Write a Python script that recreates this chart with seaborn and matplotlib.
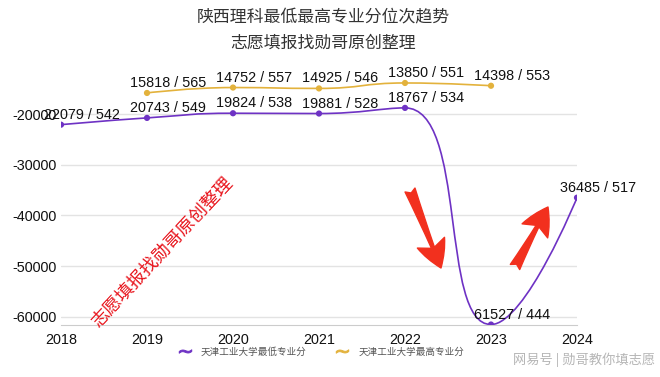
import numpy as np
import pandas as pd
import matplotlib
matplotlib.use("Agg")
import matplotlib.pyplot as plt
import seaborn as sns
from matplotlib.path import Path
from matplotlib.patches import PathPatch
from matplotlib.lines import Line2D

# 数据：位次 / 最低(最高)专业分
years_low = [2018, 2019, 2020, 2021, 2022, 2023, 2024]
rank_low = [22079, 20743, 19824, 19881, 18767, 61527, 36485]
score_low = [542, 549, 538, 528, 534, 444, 517]

years_high = [2019, 2020, 2021, 2022, 2023]
rank_high = [15818, 14752, 14925, 13850, 14398]
score_high = [565, 557, 546, 551, 553]

name_low = "天津工业大学最低专业分"
name_high = "天津工业大学最高专业分"
c_low = "#6e32c4"
c_high = "#e3b23c"

sns.set_style("white")
plt.rcParams["font.family"] = ["Liberation Sans", "Noto Sans CJK SC"]
plt.rcParams["axes.unicode_minus"] = False
cjk = ["Noto Sans CJK SC", "DejaVu Sans"]

fig = plt.figure(figsize=(6.6, 3.77), dpi=100)
ax = fig.add_axes([61 / 660, 52 / 377, 516 / 660, (325 - 66) / 377])
ax.set_xlim(2018, 2024)
ax.set_ylim(-61617, -10500)


def smooth_curve(xs, ys, smooth=0.5):
    # echarts 风格的平滑曲线（在屏幕坐标中计算控制点）
    pts = ax.transData.transform(np.column_stack([xs, ys]))
    n = len(pts)
    verts = [tuple(pts[0])]
    codes = [Path.MOVETO]
    cp0 = pts[0].copy()
    for i in range(1, n):
        x, y = pts[i]
        px, py = pts[i - 1]
        if i == n - 1:
            cp1 = np.array([x, y])
            ncp0 = None
        else:
            nx, ny = pts[i + 1]
            vx, vy = nx - px, ny - py
            l0 = np.hypot(x - px, y - py)
            l1 = np.hypot(nx - x, ny - y)
            r = l1 / (l0 + l1)
            ncx = x + vx * smooth * r
            ncy = y + vy * smooth * r
            ncx = max(min(ncx, max(nx, x)), min(nx, x))
            ncy = max(min(ncy, max(ny, y)), min(ny, y))
            vx, vy = ncx - x, ncy - y
            c1x = x - vx * l0 / l1
            c1y = y - vy * l0 / l1
            c1x = max(min(c1x, max(px, x)), min(px, x))
            c1y = max(min(c1y, max(py, y)), min(py, y))
            vx, vy = x - c1x, y - c1y
            ncp0 = np.array([x + vx * l1 / l0, y + vy * l1 / l0])
            cp1 = np.array([c1x, c1y])
        verts += [tuple(cp0), tuple(cp1), (x, y)]
        codes += [Path.CURVE4] * 3
        cp0 = ncp0
    data_verts = ax.transData.inverted().transform(np.array(verts))
    return Path(data_verts, codes)


df_low = pd.DataFrame({"year": years_low, "rank": [-v for v in rank_low]})
df_high = pd.DataFrame({"year": years_high, "rank": [-v for v in rank_high]})

for df, c in [(df_low, c_low), (df_high, c_high)]:
    ax.add_patch(PathPatch(smooth_curve(df["year"].values, df["rank"].values),
                           facecolor="none", edgecolor=c, lw=1.2, zorder=2))
    sns.scatterplot(data=df, x="year", y="rank", color=c, s=20, edgecolor="none",
                    zorder=3, ax=ax, legend=False)

for yrs, rk, sc in [(years_low, rank_low, score_low), (years_high, rank_high, score_high)]:
    for x, r, s in zip(yrs, rk, sc):
        ax.annotate(f"{r} / {s}", (x, -r), xytext=(21, 10), textcoords="offset pixels",
                    ha="center", va="center", fontsize=10.4, color="#111111",
                    annotation_clip=False, zorder=4)

ax.set_yticks([-60000, -50000, -40000, -30000, -20000])
ax.set_yticklabels([str(v) for v in [-60000, -50000, -40000, -30000, -20000]])
ax.set_xticks(years_low)
ax.set_xticklabels([str(y) for y in years_low])
ax.tick_params(axis="y", length=0, pad=3, labelsize=10.4, labelcolor="#111111")
ax.tick_params(axis="x", direction="in", length=4, color="#cccccc", pad=6,
               labelsize=10.4, labelcolor="#111111")
ax.yaxis.grid(True, color="#e3e3e3", lw=1)
for s in ["top", "right", "left"]:
    ax.spines[s].set_visible(False)
ax.spines["bottom"].set_color("#cccccc")
ax.set_xlabel("")
ax.set_ylabel("")

# 标题
fig.text(323 / 660, 1 - 17 / 377, "陕西理科最低最高专业分位次趋势", ha="center", va="center",
         fontsize=12.2, color="#333333", family=cjk)
fig.text(323 / 660, 1 - 43 / 377, "志愿填报找勋哥原创整理", ha="center", va="center",
         fontsize=12.2, color="#333333", family=cjk)

# 红色水印与箭头
fig.text(162 / 660, 1 - 252 / 377, "志愿填报找勋哥原创整理", ha="center", va="center",
         rotation=47, rotation_mode="anchor", fontsize=13, color="#e8141c", family=cjk)
arrow = dict(arrowstyle="fancy,head_length=1.4,head_width=1.5,tail_width=0.55",
             color="#f2301e", mutation_scale=14, shrinkA=0, shrinkB=0)
ax.annotate("", xy=(441, 109), xytext=(410, 187), xycoords="figure pixels",
            textcoords="figure pixels", arrowprops=arrow, annotation_clip=False)
ax.annotate("", xy=(548, 170), xytext=(515, 110), xycoords="figure pixels",
            textcoords="figure pixels", arrowprops=arrow, annotation_clip=False)

# 图例
handles = [Line2D([], [], ls="none", marker=r"$\sim$", markersize=9, color=c_low, mew=0.7),
           Line2D([], [], ls="none", marker=r"$\sim$", markersize=9, color=c_high, mew=0.7)]
fig.legend(handles, [name_low, name_high], loc="center", bbox_to_anchor=(322 / 660, 1 - 352 / 377),
           ncol=2, frameon=False, prop={"family": cjk, "size": 6.9}, labelcolor="#555555",
           handlelength=1.0, handletextpad=1.2, columnspacing=3.2)

fig.text(655 / 660, 1 - 360 / 377, "网易号 | 勋哥教你填志愿", ha="right", va="center",
         fontsize=9.5, color="#b5b5b5", family=cjk)

fig.savefig("out.png", dpi=100)
